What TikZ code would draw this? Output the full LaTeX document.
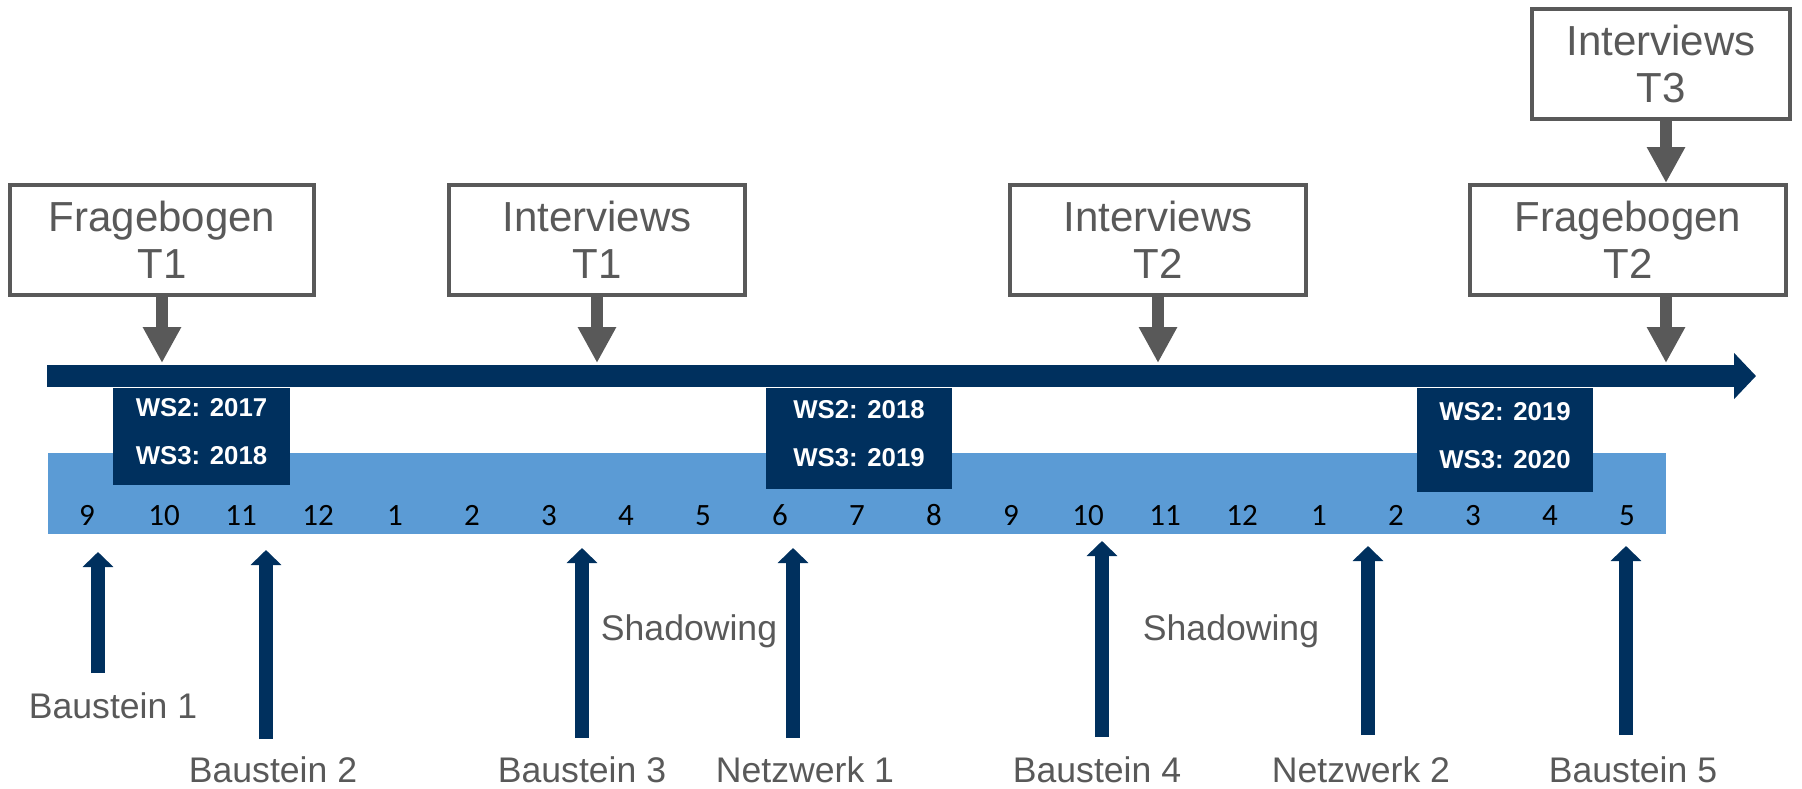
\documentclass[tikz,border=0pt]{standalone}
\usepackage{fontspec}
\setmainfont{Liberation Sans}
\newfontfamily\zahlfont{Carlito}
\usetikzlibrary{arrows.meta}

\definecolor{dunkelblau}{RGB}{0,48,94}
\definecolor{hellblau}{RGB}{91,155,213}
\definecolor{textgrau}{RGB}{89,89,89}

\tikzset{
  kasten/.style={draw=textgrau, line width=2pt, fill=white, text=textgrau, align=center,
    inner sep=0pt, minimum height=55pt, font=\fontsize{21}{23.5}\selectfont},
  wsbox/.style={fill=dunkelblau, text=white, align=center, inner sep=0pt, text depth=5pt,
    font=\bfseries\fontsize{12.9}{24}\selectfont},
  monat/.style={inner sep=0pt, anchor=base, font=\zahlfont\fontsize{15.5}{18}\selectfont},
  etikett/.style={text=textgrau, anchor=base, inner sep=0pt, font=\fontsize{17.8}{20}\selectfont},
  pfeilgrau/.style={draw=textgrau, line width=6pt, -{Triangle[width=18pt,length=18pt]}},
  pfeilblau/.style={draw=dunkelblau, line width=7pt, -{Triangle[width=15pt,length=7.5pt]}},
}

\begin{document}
\begin{tikzpicture}[x=0.5pt, y=-0.5pt]
  \useasboundingbox (0,0) rectangle (1802,788);

  % Monate
  \fill[hellblau] (48,453) rectangle (1666,534);
  \foreach \m [count=\i from 0] in {9,10,11,12,1,2,3,4,5,6,7,8,9,10,11,12,1,2,3,4,5}
    \node[monat] (m\i) at (87+77*\i,525) {\m};

  % Semester
  \node[wsbox, minimum width=88.5pt, minimum height=48.5pt] (ws1) at (201.5,436.5) {WS2: 2017\\WS3: 2018};
  \node[wsbox, minimum width=93pt, minimum height=50.5pt] (ws2) at (859,438.5) {WS2: 2018\\WS3: 2019};
  \node[wsbox, minimum width=88pt, minimum height=52pt] (ws3) at (1505,440) {WS2: 2019\\WS3: 2020};

  % Zeitstrahl
  \coordinate (zs0) at (47,376);
  \coordinate (zs1) at (1756,376);
  \draw[dunkelblau, line width=11pt, -{Triangle[width=22.5pt,length=11pt]}] (zs0) -- (zs1);

  % Erhebungen
  \node[kasten, minimum width=152pt] (frag1) at (162,240) {Fragebogen\\T1};
  \node[kasten, minimum width=148pt] (int1) at (597,240) {Interviews\\T1};
  \node[kasten, minimum width=148pt] (int2) at (1158,240) {Interviews\\T2};
  \node[kasten, minimum width=158pt] (frag2) at (1628,240) {Fragebogen\\T2};
  \node[kasten, minimum width=129pt] (int3) at (1661,63.5) {Interviews\\T3};

  \coordinate (e1) at (162,363);
  \coordinate (e2) at (597,363);
  \coordinate (e3) at (1158,363);
  \coordinate (e4) at (1666,363);
  \draw[pfeilgrau] (frag1) -- (e1);
  \draw[pfeilgrau] (int1) -- (e2);
  \draw[pfeilgrau] (int2) -- (e3);
  \draw[pfeilgrau] (frag2.south -| e4) -- (e4);
  \draw[pfeilgrau] (int3.south -| e4) -- (frag2.north -| e4);

  % Bausteine
  \foreach \name/\x/\oben/\unten in {b1/98/552/673, b2/266/550/739, b3/582/548/738,
      n1/793/548/738, b4/1102/541/737, n2/1368/546/735, b5/1626/546/735} {
    \coordinate (\name-o) at (\x,\oben);
    \coordinate (\name-u) at (\x,\unten);
    \draw[pfeilblau] (\name-u) -- (\name-o);
  }

  \node[etikett] (lb1) at (113,718) {Baustein 1};
  \node[etikett] (lb2) at (273,782) {Baustein 2};
  \node[etikett] (lb3) at (582,782) {Baustein 3};
  \node[etikett] (ln1) at (805,782) {Netzwerk 1};
  \node[etikett] (lb4) at (1097,782) {Baustein 4};
  \node[etikett] (ln2) at (1361,782) {Netzwerk 2};
  \node[etikett] (lb5) at (1633,782) {Baustein 5};
  \node[etikett] (sh1) at (689,640) {Shadowing};
  \node[etikett] (sh2) at (1231,640) {Shadowing};
\end{tikzpicture}
\end{document}
